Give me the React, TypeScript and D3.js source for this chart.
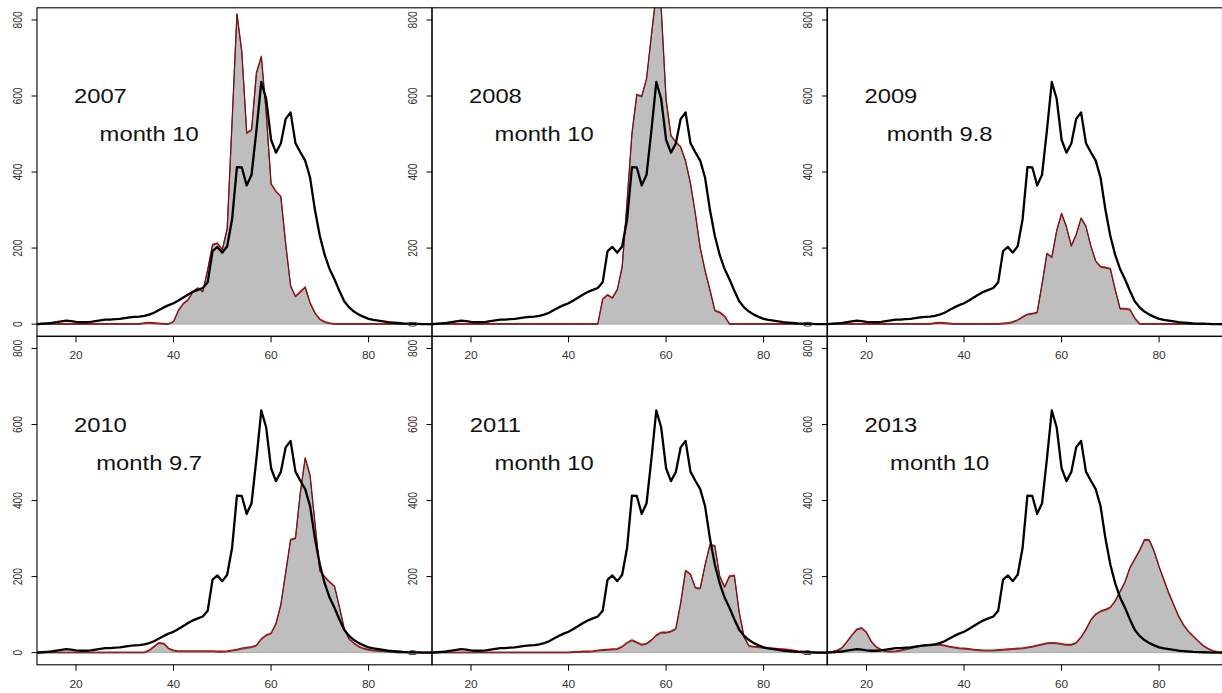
import React from 'react';
import * as d3 from 'd3';

// Ages (x values) shared by every series
const AGES = [
  12, 13, 14, 15, 16, 17, 18, 19, 20, 21,
  22, 23, 24, 25, 26, 27, 28, 29, 30, 31,
  32, 33, 34, 35, 36, 37, 38, 39, 40, 41,
  42, 43, 44, 45, 46, 47, 48, 49, 50, 51,
  52, 53, 54, 55, 56, 57, 58, 59, 60, 61,
  62, 63, 64, 65, 66, 67, 68, 69, 70, 71,
  72, 73, 74, 75, 76, 77, 78, 79, 80, 81,
  82, 83, 84, 85, 86, 87, 88, 89, 90, 91, 92, 93,
];

// Black reference curve (same in every panel)
const REFERENCE = [
  0, 1, 2, 3, 5, 7, 9, 8, 6, 5,
  5, 6, 8, 10, 12, 12, 13, 14, 16, 18,
  19, 20, 22, 25, 30, 37, 44, 50, 55, 62,
  70, 78, 85, 90, 95, 110, 192, 203, 188, 205,
  275, 413, 412, 365, 393, 510, 637, 592, 485, 451,
  475, 540, 557, 476, 452, 430, 385, 300, 232, 182,
  145, 118, 88, 60, 44, 33, 25, 19, 14, 11,
  9, 7, 5, 4, 3, 2, 1.5, 1, 0.5, 0, 0, 0,
];

const S2007 = [
  0, 0, 0, 0, 0, 0, 0, 0, 0, 0,
  0, 0, 0, 0, 0, 0, 0, 0, 0, 0,
  0, 0, 2, 3, 2, 1, 0, 0, 6, 35,
  53, 63, 85, 94, 85, 142, 208, 212, 195, 250,
  530, 815, 715, 502, 510, 660, 703, 555, 368, 348,
  335, 210, 100, 72, 84, 96, 55, 28, 12, 5,
  2, 0, 0, 0, 0, 0, 0, 0, 0, 0,
  0, 0, 0, 0, 0, 0, 0, 0, 0, 0, 0, 0,
];

const S2008 = [
  0, 0, 0, 0, 0, 0, 0, 0, 0, 0,
  0, 0, 0, 0, 0, 0, 0, 0, 0, 0,
  0, 0, 0, 0, 0, 0, 0, 0, 0, 0,
  0, 0, 0, 0, 0, 65, 76, 68, 90, 150,
  320, 500, 603, 598, 645, 760, 870, 830, 590, 495,
  478, 465, 428, 370, 290, 200, 140, 89, 35, 30,
  20, 0, 0, 0, 0, 0, 0, 0, 0, 0,
  0, 0, 0, 0, 0, 0, 0, 0, 0, 0, 0, 0,
];

const S2009 = [
  0, 0, 0, 0, 0, 0, 0, 0, 0, 0,
  0, 0, 0, 0, 0, 0, 0, 0, 0, 0,
  0, 0, 2, 3, 2, 1, 0, 0, 0, 0,
  0, 0, 0, 0, 0, 0, 1, 2, 5, 10,
  18, 25, 27, 30, 105, 185, 175, 245, 290, 255,
  205, 235, 278, 256, 205, 165, 150, 148, 145, 90,
  40, 40, 38, 15, 0, 0, 0, 0, 0, 0,
  0, 0, 0, 0, 0, 0, 0, 0, 0, 0, 0, 0,
];

const S2010 = [
  0, 0, 0, 0, 0, 0, 0, 0, 0, 0,
  0, 0, 0, 0, 0, 0, 0, 0, 0, 0,
  0, 0, 0, 5, 15, 25, 23, 10, 5, 3,
  3, 3, 3, 3, 3, 3, 3, 2, 2, 3,
  5, 7, 10, 12, 14, 18, 35, 45, 50, 75,
  125, 210, 296, 300, 420, 511, 465, 340, 215, 198,
  185, 174, 120, 62, 35, 24, 15, 10, 7, 5,
  4, 3, 2, 1, 0, 0, 0, 0, 0, 0, 0, 0,
];

const S2011 = [
  0, 0, 0, 0, 0, 0, 0, 0, 0, 0,
  0, 0, 0, 0, 0, 0, 0, 0, 0, 0,
  0, 0, 0, 0, 0, 0, 0, 0, 0, 1,
  1, 2, 2, 3, 5, 6, 7, 8, 9, 15,
  25, 32, 26, 20, 23, 32, 45, 52, 52, 55,
  62, 130, 215, 205, 170, 168, 230, 283, 280, 200,
  172, 200, 202, 105, 40, 17, 15, 14, 12, 11,
  10, 9, 8, 7, 5, 3, 2, 1, 0, 0, 0, 0,
];

const S2013 = [
  0, 2, 5, 12, 28, 45, 60, 64, 52, 28,
  14, 7, 3, 2, 3, 5, 8, 11, 14, 17,
  19, 20, 20, 20, 18, 15, 13, 11, 10, 9,
  7, 6, 5, 5, 5, 6, 7, 8, 9, 10,
  11, 13, 15, 18, 21, 24, 25, 24, 22, 20,
  20, 25, 40, 60, 85, 100, 108, 112, 118, 135,
  160, 185, 222, 245, 268, 296, 295, 265, 225, 190,
  155, 125, 95, 72, 55, 42, 30, 18, 10, 4, 1, 0,
];

const YEARS = ['2007', '2008', '2009', '2010', '2011', '2013'];
const MONTHS = ['month 10', 'month 10', 'month 9.8', 'month 9.7', 'month 10', 'month 10'];
const SERIES = [S2007, S2008, S2009, S2010, S2011, S2013];

const X_TICKS = [20, 40, 60, 80];
const Y_TICKS = [0, 200, 400, 600, 800];
const X_DOMAIN: [number, number] = [12, 93];
const Y_DOMAIN: [number, number] = [-32, 832];

// layout
const W = 1222;
const H = 693;
const COL_LEFT = [37, 432, 827.5];
const PANEL_W = 395;
const ROW_TOP = [7.8, 336.3];
const PANEL_H = 328.5;
const SX = 1.16; // horizontal text stretch
const FONT = '"Liberation Sans", Arial, Helvetica, sans-serif';

function Panel({ idx }: { idx: number }) {
  const col = idx % 3;
  const row = Math.floor(idx / 3);
  const left = COL_LEFT[col];
  const top = ROW_TOP[row];
  const bottom = top + PANEL_H;
  const right = left + PANEL_W;
  const x = d3.scaleLinear().domain(X_DOMAIN).range([left, right]);
  const y = d3.scaleLinear().domain(Y_DOMAIN).range([bottom, top]);
  const values = SERIES[idx];

  const area = d3
    .area<number>()
    .x((_, j) => x(AGES[j]))
    .y0(y(0))
    .y1((d) => y(d));
  const line = d3
    .line<number>()
    .x((_, j) => x(AGES[j]))
    .y((d) => y(d));

  const clipId = `clip-${idx}`;
  return (
    <g>
      <defs>
        <clipPath id={clipId}>
          <rect x={left} y={top} width={PANEL_W} height={PANEL_H} />
        </clipPath>
      </defs>
      <g clipPath={`url(#${clipId})`}>
        <path d={area(values) || ''} fill="#BEBEBE" stroke="#a4a4a4" strokeWidth={0.8} />
        <path
          d={line(values) || ''}
          transform="translate(0,-0.6)"
          fill="none"
          stroke="#dd0000"
          strokeWidth={1.3}
          strokeLinejoin="round"
        />
        <path
          d={line(values) || ''}
          transform="translate(0,0.3)"
          fill="none"
          stroke="#2a2a2a"
          strokeWidth={0.8}
          strokeLinejoin="round"
        />
        <path d={line(REFERENCE) || ''} fill="none" stroke="#000" strokeWidth={2.3} strokeLinejoin="round" />
      </g>
      <rect x={left} y={top} width={PANEL_W} height={PANEL_H} fill="none" stroke="#000" strokeWidth={1.1} />
      {/* y axis */}
      {Y_TICKS.map((t) => (
        <g key={`y${t}`}>
          <line x1={left - 5.5} x2={left} y1={y(t)} y2={y(t)} stroke="#000" strokeWidth={1} />
          <text
            transform={`translate(${left - 15.3},${y(t)}) scale(${SX},1) rotate(-90)`}
            textAnchor="middle"
            fontSize={10.25}
            fontFamily={FONT}
            fill="#333"
          >
            {t}
          </text>
        </g>
      ))}
      {/* x axis */}
      {X_TICKS.map((t) => (
        <g key={`x${t}`}>
          <line x1={x(t)} x2={x(t)} y1={bottom} y2={bottom + 6} stroke="#000" strokeWidth={1} />
          <text
            transform={`translate(${x(t)},${bottom + 23}) scale(${SX},1)`}
            textAnchor="middle"
            fontSize={10.25}
            fontFamily={FONT}
            fill="#333"
          >
            {t}
          </text>
        </g>
      ))}
      <text
        transform={`translate(${x(25)},${y(600) + 7.3}) scale(${SX},1)`}
        textAnchor="middle"
        fontSize={20.5}
        fontFamily={FONT}
        fill="#111"
      >
        {YEARS[idx]}
      </text>
      <text
        transform={`translate(${x(35)},${y(500) + 7.3}) scale(${SX},1)`}
        textAnchor="middle"
        fontSize={20.5}
        fontFamily={FONT}
        fill="#111"
      >
        {MONTHS[idx]}
      </text>
    </g>
  );
}

export default function App() {
  return (
    <svg
      width={W}
      height={H}
      viewBox={`0 0 ${W} ${H}`}
      style={{ position: 'absolute', left: 0, top: 0, display: 'block' }}
    >
      <rect x={0} y={0} width={W} height={H} fill="#fff" />
      {YEARS.map((_, i) => (
        <Panel key={i} idx={i} />
      ))}
    </svg>
  );
}
